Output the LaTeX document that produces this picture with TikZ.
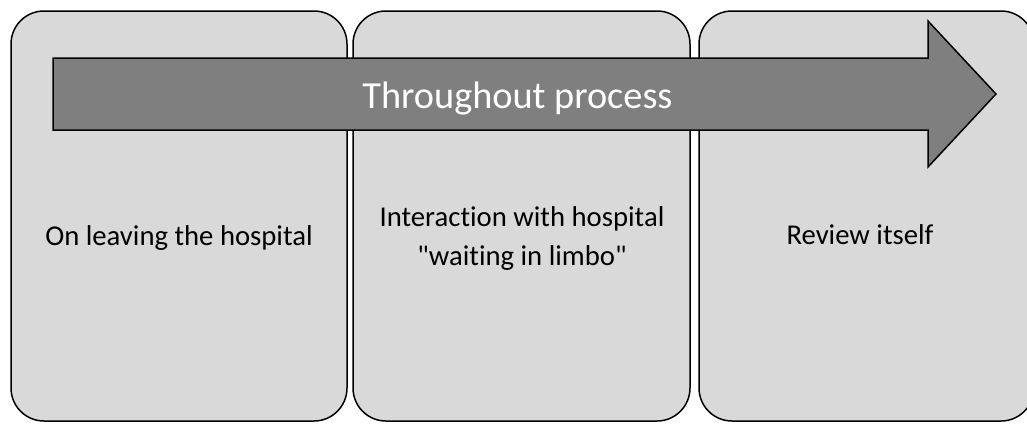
\documentclass[tikz,border=0pt]{standalone}
\usepackage{fontspec}
\setmainfont{Carlito}[Ligatures={TeXOff,NoCommon}]
\definecolor{boxgray}{HTML}{D9D9D9}
\definecolor{arrowgray}{HTML}{7F7F7F}
\tikzset{
  stage/.style={draw=black, line width=1.5pt, fill=boxgray, rounded corners=33pt},
  stagetext/.style={font=\fontsize{28.7}{35}\selectfont, text=black, align=center},
  bigarrow/.style={draw=black, line width=1.5pt, fill=arrowgray},
  arrowtext/.style={font=\fontsize{38.3}{46}\selectfont, text=white}
}
\begin{document}
\begin{tikzpicture}[x=1pt,y=-1pt]
\clip (0,0) rectangle (1027,423);
\draw[stage] (11,11) rectangle (347,421);
\draw[stage] (353,11) rectangle (690,421);
\draw[stage] (699,11) rectangle (1034,421);
\node[stagetext, anchor=base] (leave) at (179,245) {On leaving the hospital};
\node[stagetext] (limbo) at (522,238) {Interaction with hospital\\[4pt]"waiting in limbo"};
\node[stagetext, anchor=base] (review) at (860,244) {Review itself};
\draw[bigarrow] (53,58) -- (928,58) -- (928,21) -- (996,94) -- (928,167) -- (928,130) -- (53,130) -- cycle;
\node[arrowtext, anchor=base] (process) at (517.5,108) {Throughout process};
\end{tikzpicture}
\end{document}
